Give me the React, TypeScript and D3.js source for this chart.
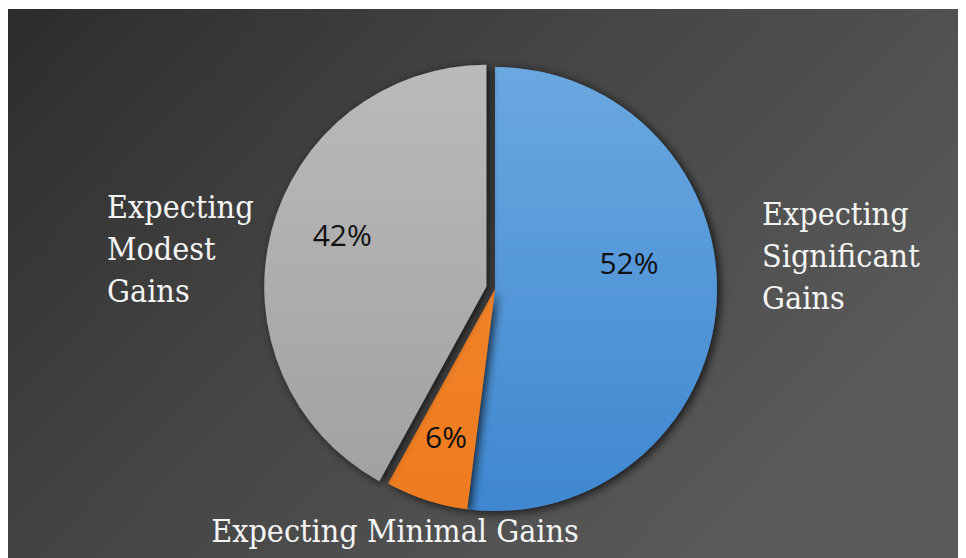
import React from 'react';
import * as d3 from 'd3';

// chart values
const CATEGORIES = ['Expecting Significant Gains', 'Expecting Minimal Gains', 'Expecting Modest Gains'];
const SHARES = [52, 6, 42];
const LABEL_LINES = [
  ['Expecting', 'Significant', 'Gains'],
  ['Expecting Minimal Gains'],
  ['Expecting', 'Modest', 'Gains'],
];

const W = 958;
const H = 550;
const CX = 487;
const CY = 281;
const R = 222;

// office palette, light -> dark for the vertical shading
const FILLS = [
  ['#6aa8e0', '#3f87d0'],
  ['#f48a33', '#ee7b1f'],
  ['#bababa', '#a0a0a0'],
];
// gray slice is pulled out a little
const EXPLODE = [0, 0, 9];
// where the percentage sits: fraction of radius + angle nudge (deg)
const PCT_POS = [
  { frac: 0.615, shift: -14.6 },
  { frac: 0.7, shift: 0.4 },
  { frac: 0.69, shift: 5.2 },
];
// outside category labels
const CAT_POS = [
  { x: 754, y: 217, anchor: 'start' },
  { x: 387, y: 534, anchor: 'middle' },
  { x: 99, y: 210, anchor: 'start' },
];

const App: React.FC = () => {
  const pie = d3.pie<number>().value(d => d).sort(null);
  const arcs = pie(SHARES);
  const arc = d3.arc<d3.PieArcDatum<number>>().innerRadius(0).outerRadius(R);

  return (
    <svg width={W} height={H} style={{ display: 'block' }}>
      <defs>
        <linearGradient id="bg" x1="0" y1="0" x2="1" y2="0.55">
          <stop offset="0" stopColor="#2c2c2c" />
          <stop offset="0.45" stopColor="#444444" />
          <stop offset="1" stopColor="#5a5a5a" />
        </linearGradient>
        {FILLS.map((f, i) => (
          <linearGradient key={i} id={`slice${i}`} gradientUnits="userSpaceOnUse"
            x1={0} y1={-R} x2={0} y2={R}>
            <stop offset="0" stopColor={f[0]} />
            <stop offset="1" stopColor={f[1]} />
          </linearGradient>
        ))}
        <filter id="shadow" x="-20%" y="-20%" width="140%" height="140%">
          <feDropShadow dx="3" dy="2" stdDeviation="5" floodColor="#000" floodOpacity="0.75" />
        </filter>
      </defs>

      <rect x={0} y={1} width={W} height={H} fill="url(#bg)" />

      <g transform={`translate(${CX},${CY})`}>
        {arcs.map((d, i) => {
          const mid = (d.startAngle + d.endAngle) / 2;
          const ox = Math.sin(mid) * EXPLODE[i];
          const oy = -Math.cos(mid) * EXPLODE[i];
          return (
            <path key={i} d={arc(d) || ''} transform={`translate(${ox},${oy})`}
              fill={`url(#slice${i})`} filter="url(#shadow)" />
          );
        })}
        {arcs.map((d, i) => {
          const mid = (d.startAngle + d.endAngle) / 2 + (PCT_POS[i].shift * Math.PI) / 180;
          const rr = R * PCT_POS[i].frac + EXPLODE[i];
          return (
            <text key={i} x={Math.sin(mid) * rr} y={-Math.cos(mid) * rr}
              textAnchor="middle" dominantBaseline="central"
              fontFamily="'Open Sans', 'Noto Sans', sans-serif" fontSize={30} fill="#111">
              {`${d.data}%`}
            </text>
          );
        })}
      </g>

      {CATEGORIES.map((c, i) => (
        <text key={c} x={CAT_POS[i].x} y={CAT_POS[i].y} textAnchor={CAT_POS[i].anchor}
          fontFamily="'DejaVu Serif', serif" fontSize={32} fill="#f4f4f4"
          style={{ fontStretch: 'condensed' }}>
          {LABEL_LINES[i].map((l, j) => (
            <tspan key={j} x={CAT_POS[i].x} dy={j === 0 ? 0 : 42}>{l}</tspan>
          ))}
        </text>
      ))}
    </svg>
  );
};

export default App;
